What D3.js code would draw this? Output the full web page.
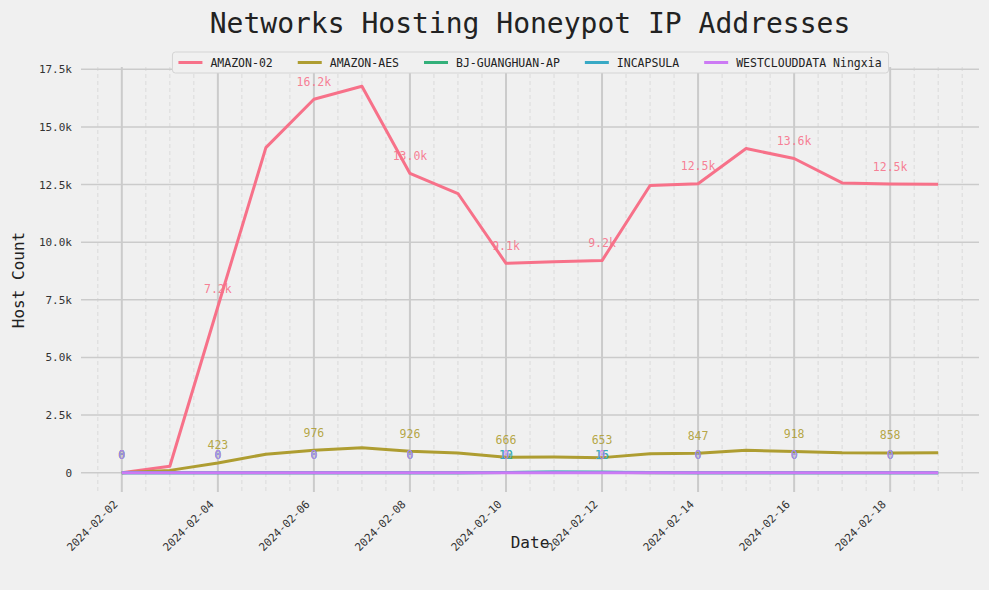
<!DOCTYPE html>
<html>
<head>
<meta charset="utf-8">
<script src="https://cdn.jsdelivr.net/npm/d3@7"></script>
<style>
html,body{margin:0;padding:0;background:#f0f0f0;}
svg{display:block;}
text{font-family:"DejaVu Sans Mono",monospace;}
</style>
</head>
<body>
<svg id="chart" width="989" height="590"></svg>
<script>
const dates = ["2024-02-02","2024-02-03","2024-02-04","2024-02-05","2024-02-06","2024-02-07","2024-02-08","2024-02-09","2024-02-10","2024-02-11","2024-02-12","2024-02-13","2024-02-14","2024-02-15","2024-02-16","2024-02-17","2024-02-18","2024-02-19"];
const seriesNames = ["AMAZON-02","AMAZON-AES","BJ-GUANGHUAN-AP","INCAPSULA","WESTCLOUDDATA Ningxia"];
const amazon02   = [0,280,7200,14100,16200,16760,12980,12110,9080,9150,9200,12460,12530,14060,13630,12570,12520,12510];
const amazonAES  = [0,100,423,800,976,1080,926,850,666,680,653,820,847,970,918,860,858,870];
const bjGuanghuan= [0,0,0,0,0,0,0,0,12,20,15,0,0,0,0,0,0,0];
const incapsula  = [0,0,0,0,0,0,0,0,10,35,16,5,0,0,0,0,0,0];
const westcloud  = [0,0,0,0,0,0,0,0,0,0,0,0,0,0,0,0,0,0];
const colors = ["#f77189","#ae9d31","#33b07a","#38a9c5","#cc7af4"];
const yTicks = [0,2500,5000,7500,10000,12500,15000,17500];
const xTickDates = ["2024-02-02","2024-02-04","2024-02-06","2024-02-08","2024-02-10","2024-02-12","2024-02-14","2024-02-16","2024-02-18"];

const values = [amazon02, amazonAES, bjGuanghuan, incapsula, westcloud];
const parse = d3.utcParse("%Y-%m-%d");
const fmtDate = d3.utcFormat("%Y-%m-%d");
const dts = dates.map(parse);

const svg = d3.select("#chart");
const L = 81, R = 979, T = 67, B = 492;
const DAY = 864e5;
const x = d3.scaleUtc()
  .domain([new Date(+dts[0] - 0.85*DAY), new Date(+dts[dts.length-1] + 0.85*DAY)])
  .range([L, R]);
const ymax = d3.max(values.flat());
const y = d3.scaleLinear().domain([-0.05*ymax, 1.05*ymax]).range([B, T]);

// minor vertical grid (12h)
const minor = d3.utcHour.every(12).range(x.domain()[0], x.domain()[1])
  .filter(d => !(d.getUTCHours() === 0 && (d.getUTCDate() % 2 === 0)));
svg.append("g").selectAll("line").data(minor).join("line")
  .attr("x1", d => x(d)).attr("x2", d => x(d)).attr("y1", T).attr("y2", B)
  .attr("stroke", "#d6d6d6").attr("stroke-width", 0.8).attr("stroke-dasharray", "4,3");

// horizontal grid
svg.append("g").selectAll("line").data(yTicks).join("line")
  .attr("x1", L).attr("x2", R).attr("y1", d => y(d)).attr("y2", d => y(d))
  .attr("stroke", "#cbcbcb").attr("stroke-width", 1.5);

// major vertical grid
const majors = xTickDates.map(parse);
svg.append("g").selectAll("line").data(majors).join("line")
  .attr("x1", d => x(d)).attr("x2", d => x(d)).attr("y1", T).attr("y2", B)
  .attr("stroke", "#cbcbcb").attr("stroke-width", 2);

// y axis labels
const yFmt = v => v === 0 ? "0" : (v/1000).toFixed(1) + "k";
const yAxis = d3.axisLeft(y).tickValues(yTicks).tickFormat(yFmt).tickSize(0).tickPadding(9);
const gy = svg.append("g").attr("transform", `translate(${L},0)`).call(yAxis);
gy.select(".domain").remove();
gy.selectAll("text").attr("font-family", "DejaVu Sans Mono").attr("font-size", "11px").attr("fill", "#333");

// x axis labels
const xAxis = d3.axisBottom(x).tickValues(majors).tickFormat(fmtDate).tickSize(0).tickPadding(0);
const gx = svg.append("g").attr("transform", `translate(0,${B})`).call(xAxis);
gx.select(".domain").remove();
gx.selectAll("text")
  .attr("font-family", "DejaVu Sans Mono").attr("font-size", "11px").attr("fill", "#333")
  .attr("text-anchor", "end").attr("dy", null).attr("y", 0)
  .attr("transform", "translate(-4,13) rotate(-45)");

// lines
const line = d3.line().x((d, i) => x(dts[i])).y(d => y(d));
values.forEach((vals, s) => {
  svg.append("path").datum(vals)
    .attr("fill", "none").attr("stroke", colors[s]).attr("stroke-width", 3)
    .attr("stroke-linejoin", "round").attr("d", line);
});

// annotations
const valFmt = v => v >= 1000 ? (v/1000).toFixed(1) + "k" : String(Math.round(v));
values.forEach((vals, s) => {
  const pts = vals.map((v, i) => ({v, i})).filter(d => d.i % 2 === 0);
  svg.append("g").selectAll("text").data(pts).join("text")
    .attr("x", d => x(dts[d.i])).attr("y", d => y(d.v) - 13.5)
    .attr("text-anchor", "middle").attr("font-size", "11.5px")
    .attr("fill", colors[s]).attr("fill-opacity", 0.9)
    .text(d => valFmt(d.v));
});

// title
svg.append("text").attr("x", 530).attr("y", 33).attr("text-anchor", "middle")
  .attr("font-size", "28px").attr("fill", "#222").text("Networks Hosting Honeypot IP Addresses");

// axis titles
svg.append("text").attr("x", 530).attr("y", 548).attr("text-anchor", "middle")
  .attr("font-size", "16px").attr("fill", "#222").text("Date");
svg.append("text").attr("transform", "translate(24,280) rotate(-90)").attr("text-anchor", "middle")
  .attr("font-size", "16px").attr("fill", "#222").text("Host Count");

// legend
const lg = svg.append("g");
const box = lg.append("rect").attr("y", 52).attr("height", 21).attr("rx", 3)
  .attr("fill", "#f0f0f0").attr("stroke", "#d4d4d4").attr("stroke-width", 1);
let cx = 0;
const items = [];
seriesNames.forEach((name, s) => {
  const g = lg.append("g");
  g.append("line").attr("x1", cx).attr("x2", cx + 24).attr("y1", 62.5).attr("y2", 62.5)
    .attr("stroke", colors[s]).attr("stroke-width", 3);
  const t = g.append("text").attr("x", cx + 32).attr("y", 66.5).attr("font-size", "11.5px")
    .attr("fill", "#222").text(name);
  const w = t.node().getComputedTextLength();
  cx += 32 + w + 25;
  items.push(g);
});
const totalW = cx - 25;
const startX = 530 - totalW / 2;
items.forEach(g => g.attr("transform", `translate(${startX},0)`));
box.attr("x", startX - 6).attr("width", totalW + 13);
</script>
</body>
</html>
